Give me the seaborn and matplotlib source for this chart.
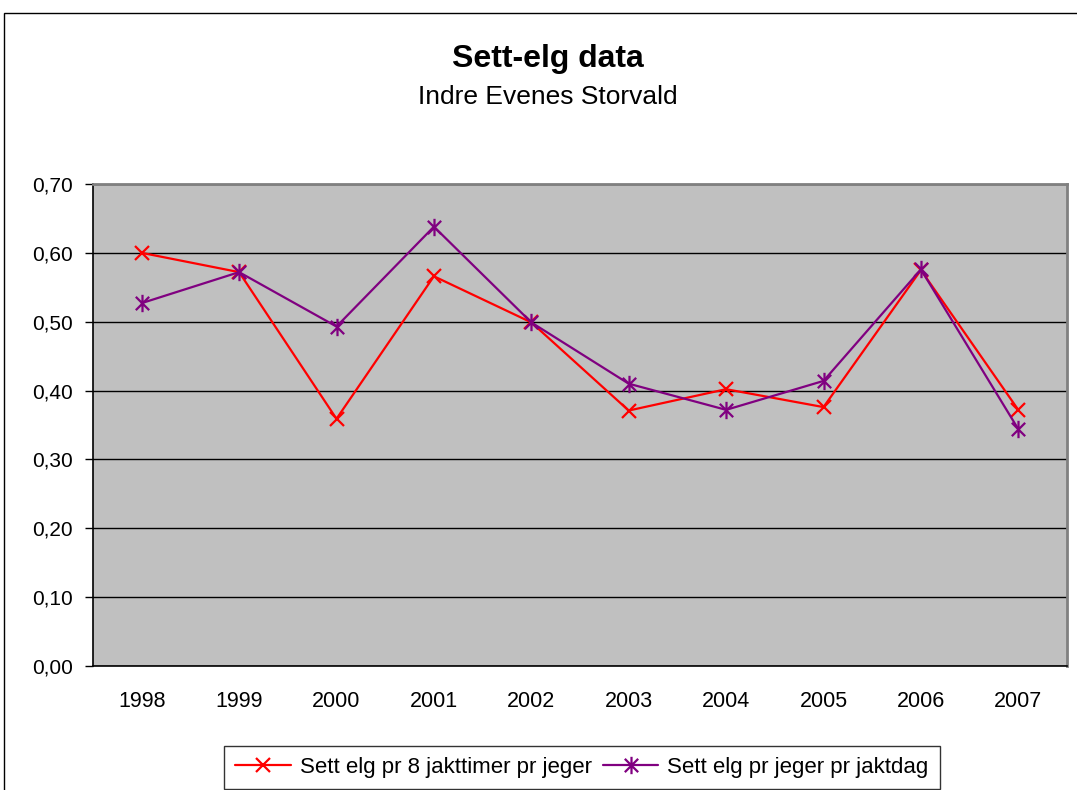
import numpy as np
import pandas as pd
import seaborn as sns
import matplotlib.pyplot as plt
from matplotlib.path import Path
from matplotlib.patches import Rectangle
from matplotlib.ticker import FuncFormatter, FixedLocator

# data
years = [1998, 1999, 2000, 2001, 2002, 2003, 2004, 2005, 2006, 2007]
pr_8_timer = [0.600, 0.572, 0.359, 0.566, 0.499, 0.371, 0.402, 0.376, 0.575, 0.372]
pr_jaktdag = [0.527, 0.572, 0.493, 0.638, 0.499, 0.410, 0.372, 0.414, 0.576, 0.344]
labels = ["Sett elg pr 8 jakttimer pr jeger", "Sett elg pr jeger pr jaktdag"]

df = pd.DataFrame({"Aar": years, labels[0]: pr_8_timer, labels[1]: pr_jaktdag})

sns.set_style("white", {"text.color": "black", "xtick.color": "black", "ytick.color": "black",
                        "axes.labelcolor": "black"})
plt.rcParams["font.family"] = ["Liberation Sans", "DejaVu Sans"]

# excel style star: X with a vertical bar
star = Path([(-1, -1), (1, 1), (-1, 1), (1, -1), (0, -1.3), (0, 1.3)],
            [Path.MOVETO, Path.LINETO, Path.MOVETO, Path.LINETO, Path.MOVETO, Path.LINETO])

fig = plt.figure(figsize=(10.77, 7.90), dpi=100)
ax = fig.add_axes([93 / 1077, 1 - 666 / 790, (1067 - 93) / 1077, (666 - 184) / 790])
ax.set_facecolor("#C0C0C0")

sns.lineplot(data=df, x="Aar", y=labels[0], color="#FF0000", marker="x", label=labels[0],
             markersize=10, markeredgewidth=1.6, markeredgecolor="#FF0000", linewidth=1.6, ax=ax)
sns.lineplot(data=df, x="Aar", y=labels[1], color="#800080", marker=star, label=labels[1],
             markersize=12.5, markeredgewidth=1.6, markeredgecolor="#800080", linewidth=1.6, ax=ax)

ax.set_xlim(years[0] - 0.5, years[-1] + 0.5)
ax.set_ylim(0, 0.7)
ax.set_yticks(np.arange(0, 0.71, 0.1))
ax.yaxis.set_major_formatter(FuncFormatter(lambda v, p: f"{v:.2f}".replace(".", ",")))
ax.set_xticks(years)
ax.xaxis.set_minor_locator(FixedLocator([y - 0.5 for y in years] + [years[-1] + 0.5]))
ax.tick_params(axis="x", which="major", length=0, pad=18, labelsize=15.5)
ax.tick_params(axis="x", which="minor", length=8, width=1, color="black", direction="out")
ax.tick_params(axis="y", which="major", length=6, width=1, color="black", direction="out",
               left=True, labelsize=15, pad=8.5)
ax.grid(axis="y", color="black", linewidth=1)
ax.set_axisbelow(True)
ax.set_xlabel("")
ax.set_ylabel("")
for s in ["top", "right"]:
    ax.spines[s].set_color("#808080")
    ax.spines[s].set_linewidth(2)
for s in ["left", "bottom"]:
    ax.spines[s].set_color("black")
    ax.spines[s].set_linewidth(1.2)

leg = ax.legend(loc="upper center", bbox_to_anchor=(582 / 1077, 1 - 746 / 790), bbox_transform=fig.transFigure,
                ncol=2, frameon=True, fontsize=16, handlelength=2.5, handletextpad=0.4,
                columnspacing=0.5, borderpad=0.5, borderaxespad=0, fancybox=False)
leg.get_frame().set_edgecolor("black")
leg.get_frame().set_linewidth(1)

fig.text(548 / 1077, 1 - 67 / 790, "Sett-elg data", ha="center", va="baseline",
         fontsize=23, fontweight="bold")
fig.text(548 / 1077, 1 - 104 / 790, "Indre Evenes Storvald", ha="center", va="baseline",
         fontsize=19)

fig.patches.append(Rectangle((4 / 1077, -0.1), 1.2, 1 - 13 / 790 + 0.1, transform=fig.transFigure,
                             fill=False, edgecolor="black", linewidth=1))

fig.savefig("out.png", dpi=100, facecolor="white")
